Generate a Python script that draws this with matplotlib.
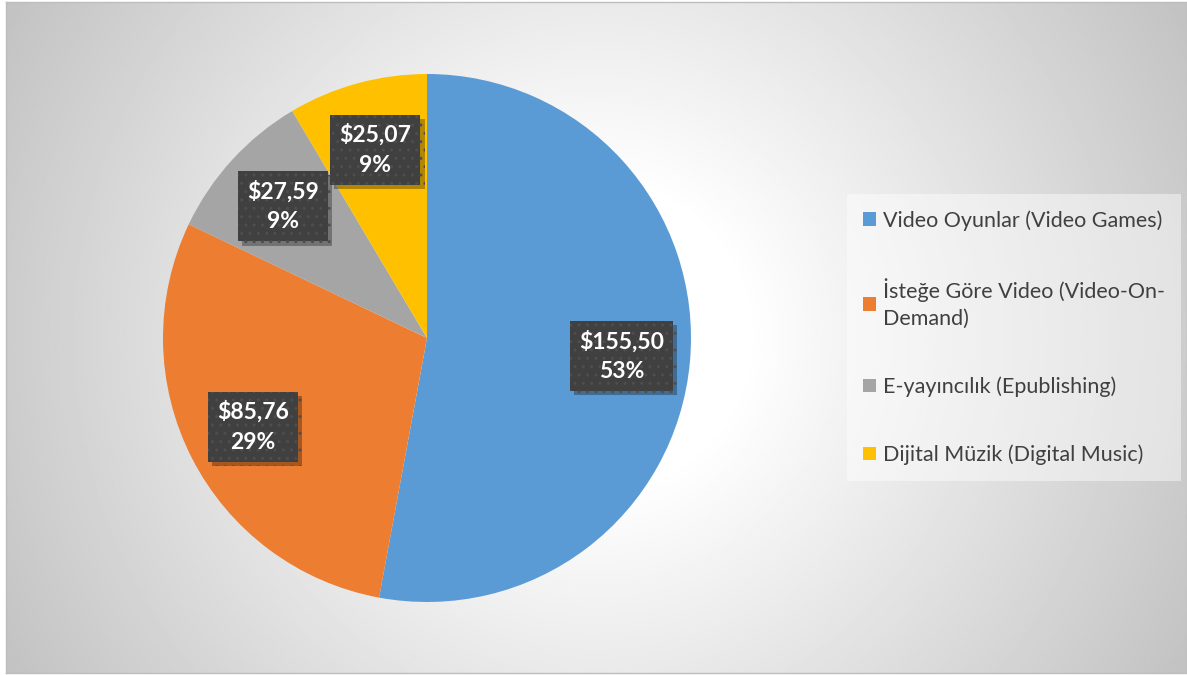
import numpy as np
import matplotlib
matplotlib.use("Agg")
import matplotlib.pyplot as plt
from matplotlib import patheffects as pe

categories = [
    "Video Oyunlar (Video Games)",
    "İsteğe Göre Video (Video-On-\nDemand)",
    "E-yayıncılık (Epublishing)",
    "Dijital Müzik (Digital Music)",
]
revenue = [155.50, 85.76, 27.59, 25.07]
colors = ["#5b9bd5", "#ed7d31", "#a5a5a5", "#ffc000"]

plt.rcParams['font.family'] = ['Lato', 'DejaVu Sans']

W, H = 1187, 675
fig = plt.figure(figsize=(W / 100, H / 100), dpi=100)

# radial gray background inside the chart frame
bg = fig.add_axes([6 / W, 2 / H, (W - 6) / W, (H - 4) / H])
xs = np.linspace(6, W, 600)
ys = np.linspace(2, H - 2, 340)
X, Y = np.meshgrid(xs, ys)
d = np.hypot(X - 596, Y - 337)
g = 1 - 0.24 * np.clip((d - 150) / (682 - 150), 0, 1)
bg.imshow(g, cmap='gray', vmin=0, vmax=1, extent=[0, 1, 0, 1],
          aspect='auto', interpolation='bilinear')
bg.set_xticks([])
bg.set_yticks([])
for s in bg.spines.values():
    s.set_color('#bdbdbd')
    s.set_linewidth(1)

# pie
ax = fig.add_axes([163 / W, 73 / H, 528 / W, 528 / H])
wedges, _ = ax.pie(revenue, colors=colors, startangle=90, counterclock=False,
                   radius=1, wedgeprops=dict(linewidth=0))
ax.set_xlim(-1, 1)
ax.set_ylim(-1, 1)
ax.set_aspect('equal')
ax.axis('off')

total = sum(revenue)
for w, v in zip(wedges, revenue):
    ang = np.deg2rad((w.theta1 + w.theta2) / 2)
    txt = "$" + f"{v:.2f}".replace('.', ',') + f"\n{v / total * 100:.0f}%"
    t = ax.text(0.74 * np.cos(ang), 0.74 * np.sin(ang), txt,
                ha='center', va='center', color='white', fontsize=16.5,
                fontweight='bold', linespacing=1.5,
                bbox=dict(boxstyle='square,pad=0.4', fc='#404040',
                          ec='#4e4e4e', lw=0, hatch='..'))
    t.get_bbox_patch().set_path_effects([
        pe.withSimplePatchShadow(offset=(3, -3), shadow_rgbFace='black', alpha=0.3),
        pe.Normal()])

leg = fig.legend(wedges, categories, loc='center left',
                 bbox_to_anchor=(847 / W, 0.5), frameon=True, fontsize=15.5,
                 labelcolor='#404040', handlelength=0.6, handleheight=0.6,
                 handletextpad=0.3, labelspacing=2.2, borderpad=0.75,
                 borderaxespad=0, fancybox=False)
for lt in leg.get_texts():
    lt.set_linespacing(1.45)
fr = leg.get_frame()
fr.set_facecolor('white')
fr.set_alpha(0.45)
fr.set_edgecolor('none')

fig.savefig('out.png', dpi=100)
